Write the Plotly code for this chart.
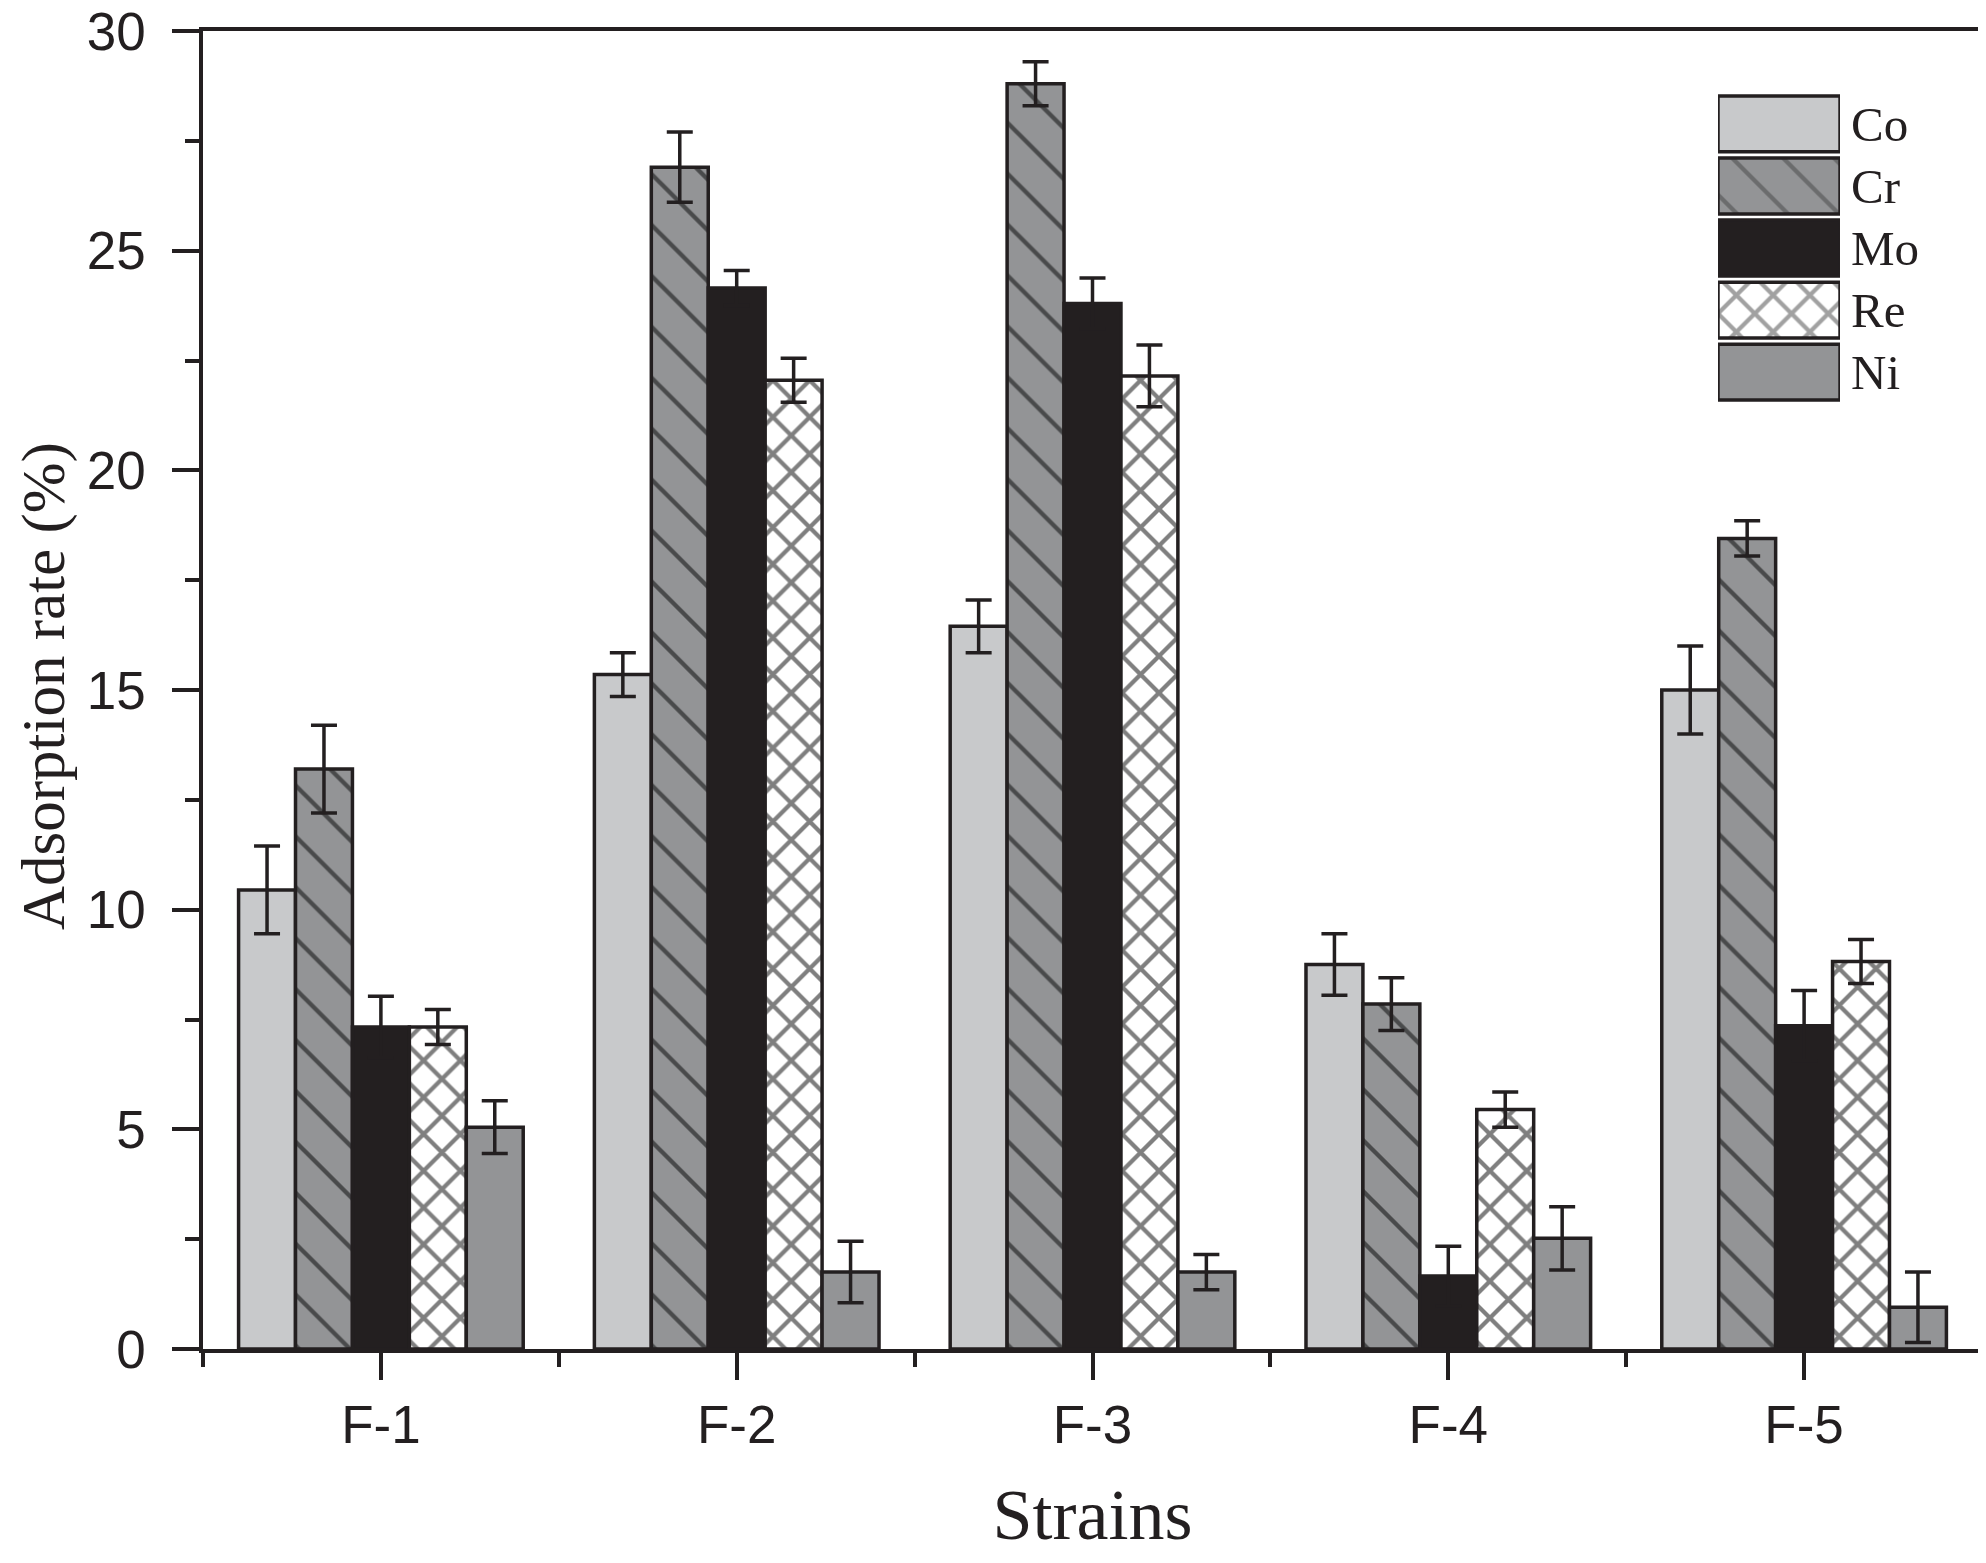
import plotly.graph_objects as go

# values (adsorption rate, %)
strains = ["F-1", "F-2", "F-3", "F-4", "F-5"]
metals = ["Co", "Cr", "Mo", "Re", "Ni"]

co = [10.45, 15.35, 16.45, 8.75, 15.0]
co_err = [1.0, 0.5, 0.6, 0.7, 1.0]
cr = [13.2, 26.9, 28.8, 7.85, 18.45]
cr_err = [1.0, 0.8, 0.5, 0.6, 0.4]
mo = [7.33, 24.15, 23.8, 1.66, 7.36]
mo_err = [0.7, 0.4, 0.58, 0.68, 0.8]
re = [7.33, 22.05, 22.15, 5.45, 8.82]
re_err = [0.4, 0.5, 0.7, 0.4, 0.5]
ni = [5.05, 1.75, 1.75, 2.52, 0.95]
ni_err = [0.6, 0.7, 0.4, 0.72, 0.8]

values = [co, cr, mo, re, ni]
errors = [co_err, cr_err, mo_err, re_err, ni_err]

INK = "#231f20"
SANS = "Liberation Sans, Arial, sans-serif"
SERIF = "Liberation Serif, Times New Roman, serif"

fills = {"Co": "#c8c9cb", "Cr": "#939496", "Mo": INK, "Re": "#ffffff", "Ni": "#939496"}
hatch = {"Co": "", "Cr": "\\", "Mo": "", "Re": "x", "Ni": ""}
hatch_size = {"Co": 10, "Cr": 36, "Mo": 10, "Re": 26, "Ni": 10}
hatch_solid = {"Co": 0.1, "Cr": 0.12, "Mo": 0.1, "Re": 0.3, "Ni": 0.1}

x_pos = list(range(len(strains)))
bounds = [p - 0.5 for p in x_pos] + [x_pos[-1] + 0.5]

fig = go.Figure()

for name, vals, errs in zip(metals, values, errors):
    fig.add_trace(go.Bar(
        x=x_pos, y=vals, name=name, showlegend=False,
        marker=dict(color=fills[name], line=dict(color=INK, width=3.5),
                    pattern=dict(shape=hatch[name], fgcolor="#000000", bgcolor=fills[name],
                                 size=hatch_size[name], solidity=hatch_solid[name])),
        error_y=dict(type="data", array=errs, color=INK, thickness=3.5, width=13),
    ))

# legend drawn as a small inset bar chart so the swatches can be large and hatched
fig.add_trace(go.Bar(
    x=[1] * len(metals), y=metals, orientation="h", base=0, width=0.9,
    xaxis="x2", yaxis="y2", showlegend=False, hoverinfo="skip", cliponaxis=False,
    marker=dict(color=[fills[m] for m in metals], line=dict(color=INK, width=3.5),
                pattern=dict(shape=[hatch[m] for m in metals], fgcolor="#000000",
                             bgcolor=[fills[m] for m in metals],
                             size=[hatch_size[m] for m in metals],
                             solidity=[hatch_solid[m] for m in metals])),
))

fig.update_layout(
    width=1986, height=1563,
    margin=dict(l=195, r=12, t=23, b=222),
    paper_bgcolor="white", plot_bgcolor="white",
    barmode="group", bargap=0.2, bargroupgap=0,
    font=dict(family=SANS, color=INK),
    xaxis=dict(
        range=[-0.5, 4.5], tickvals=x_pos, ticktext=strains, automargin=False,
        ticks="outside", ticklen=27, tickwidth=3.5, tickcolor=INK,
        minor=dict(tickvals=bounds, ticks="outside", ticklen=14, tickwidth=3.5, tickcolor=INK),
        showline=True, linewidth=3.5, linecolor=INK, mirror=True,
        showgrid=False, zeroline=False,
        tickfont=dict(family=SANS, size=53, color=INK),
        title=dict(text="Strains", font=dict(family=SERIF, size=72, color=INK), standoff=36),
    ),
    yaxis=dict(
        range=[0, 30], tick0=0, dtick=5, automargin=False,
        ticks="outside", ticklen=27, tickwidth=3.5, tickcolor=INK,
        ticklabelstandoff=16, ticklabeloverflow="allow",
        minor=dict(dtick=2.5, ticks="outside", ticklen=14, tickwidth=3.5, tickcolor=INK),
        showline=True, linewidth=3.5, linecolor=INK, mirror=True,
        showgrid=False, zeroline=False,
        tickfont=dict(family=SANS, size=53, color=INK),
    ),
    xaxis2=dict(domain=[0.8516, 0.9202], anchor="y2", range=[0, 1], visible=False),
    yaxis2=dict(
        domain=[0.7177, 0.9530], anchor="x2", type="category", autorange="reversed",
        side="right", ticks="", showline=False, showgrid=False, zeroline=False,
        ticklabelstandoff=10, automargin=False,
        tickfont=dict(family=SERIF, size=49, color=INK),
    ),
    annotations=[dict(
        text="Adsorption rate (%)", textangle=-90, showarrow=False,
        xref="paper", yref="paper", x=-0.0894, y=0.503,
        xanchor="center", yanchor="middle", borderpad=0,
        font=dict(family=SERIF, size=61, color=INK),
    )],
)

fig.write_html("out.html")
